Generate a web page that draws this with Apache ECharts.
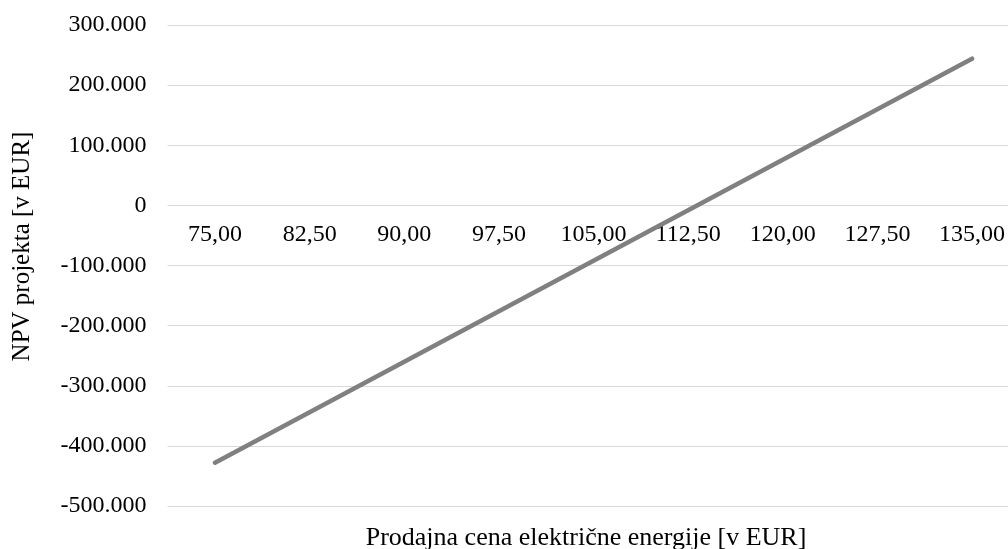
<!DOCTYPE html>
<html>
<head>
<meta charset="utf-8">
<script src="https://cdn.jsdelivr.net/npm/echarts@6/dist/echarts.min.js"></script>
<style>html,body{margin:0;padding:0;background:#fff}#c{width:1008px;height:549px}</style>
</head>
<body>
<div id="c"></div>
<script>
const categories = ['75,00','82,50','90,00','97,50','105,00','112,50','120,00','127,50','135,00'];
const npvValues = [-428000, -344000, -260000, -176000, -92000, -8000, 76000, 160000, 244000];
const yTicks = { min: -500000, max: 300000, interval: 100000 };
const xAxisTitle = 'Prodajna cena električne energije [v EUR]';
const yAxisTitle = 'NPV projekta [v EUR]';

const FONT = '"Liberation Serif", "DejaVu Serif", serif';
const FS = 24;

function fmt(v) {
  if (v === 0) return '0';
  const s = v < 0 ? '-' : '';
  return s + (Math.abs(v) / 1000) + '.000';
}

const chart = echarts.init(document.getElementById('c'), null, { renderer: 'canvas' });
chart.setOption({
  animation: false,
  backgroundColor: '#ffffff',
  grid: [
    { left: 167.5, top: 25, right: 0, height: 481, containLabel: false },
    { left: 215, top: 25, width: 760, height: 481, containLabel: false }
  ],
  graphic: [{
    type: 'text',
    x: 586, y: 538,
    style: { text: xAxisTitle, font: '26px ' + FONT, fill: '#000', textAlign: 'center', textVerticalAlign: 'middle' }
  }],
  xAxis: [
    { type: 'value', gridIndex: 0, show: false, min: 0, max: 1 },
    {
      type: 'category',
      gridIndex: 1,
      data: categories,
      boundaryGap: false,
      offset: -300.5,
      axisLine: { show: false, onZero: false },
      axisTick: { show: false },
      axisLabel: { color: '#000', fontFamily: FONT, fontSize: FS, margin: 17, interval: 0 },
      splitLine: { show: false }
    }
  ],
  yAxis: [
    {
      type: 'value',
      gridIndex: 0,
      min: yTicks.min, max: yTicks.max, interval: yTicks.interval,
      name: yAxisTitle,
      nameLocation: 'middle',
      nameGap: 133,
      nameRotate: 90,
      nameTextStyle: { color: '#000', fontFamily: FONT, fontSize: 25, padding: [0, 0, 0, 38] },
      axisLine: { show: false },
      axisTick: { show: false },
      axisLabel: { color: '#000', fontFamily: FONT, fontSize: FS, margin: 21, formatter: fmt },
      splitLine: { show: true, lineStyle: { color: '#d9d9d9', width: 1 } }
    },
    {
      type: 'value',
      gridIndex: 1,
      min: yTicks.min, max: yTicks.max, interval: yTicks.interval,
      show: false,
      splitLine: { show: false }
    }
  ],
  series: [{
    type: 'line',
    xAxisIndex: 1,
    yAxisIndex: 1,
    data: npvValues,
    symbol: 'none',
    lineStyle: { color: '#808080', width: 4.5, cap: 'round' },
    itemStyle: { color: '#808080' }
  }]
});
</script>
</body>
</html>
